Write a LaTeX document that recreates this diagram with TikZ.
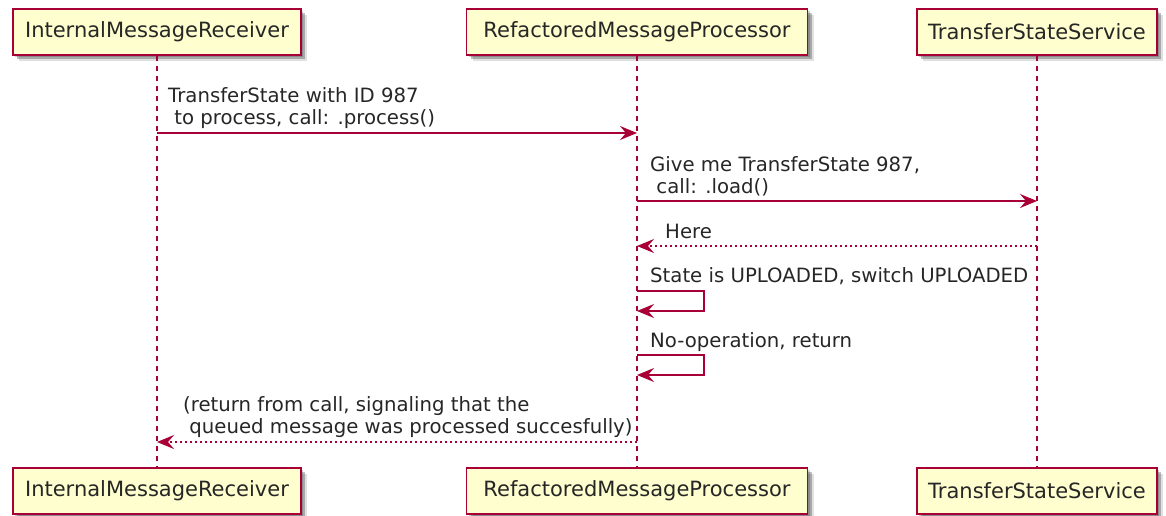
\documentclass[tikz,border=0pt]{standalone}
\usepackage{fontspec}
\setmainfont{DejaVu Sans}
\usetikzlibrary{arrows.meta,shadows}
\definecolor{umlred}{HTML}{A80036}
\definecolor{umlfill}{HTML}{FEFECE}
\tikzset{
  softshadow/.style={
    drop shadow={shadow xshift=2pt, shadow yshift=-2pt, fill=black, opacity=.18},
    drop shadow={shadow xshift=4pt, shadow yshift=-4pt, fill=black, opacity=.25},
    drop shadow={shadow xshift=6pt, shadow yshift=-6pt, fill=black, opacity=.12}},
  part/.style={draw=umlred, fill=umlfill, line width=1.5pt,
    minimum height=46pt, inner sep=0pt,
    font=\fontsize{21}{24}\selectfont, text=black!85, softshadow},
  life/.style={draw=umlred, line width=1.3pt, dash pattern=on 5pt off 5pt},
  call/.style={draw=umlred, line width=1.3pt,
    -{Stealth[length=17pt, width=14pt, inset=6pt]}},
  reply/.style={call, dash pattern=on 2.5pt off 2.5pt},
  msg/.style={anchor=base west, inner sep=0pt,
    font=\fontsize{19.7}{22}\selectfont, text=black!85}
}
\begin{document}
\begin{tikzpicture}[x=1pt, y=-1pt]
\useasboundingbox (0,0) rectangle (1166,515);

% participants, top and bottom
\node[part, minimum width=288pt] (irT) at (157,32) {InternalMessageReceiver};
\node[part, minimum width=341pt] (rpT) at (637,32) {RefactoredMessageProcessor};
\node[part, minimum width=240pt] (tsT) at (1037,32) {TransferStateService};
\node[part, minimum width=288pt] (irB) at (157,491) {InternalMessageReceiver};
\node[part, minimum width=341pt] (rpB) at (637,491) {RefactoredMessageProcessor};
\node[part, minimum width=240pt] (tsB) at (1037,491) {TransferStateService};

% lifelines
\draw[life] (irT.south) -- (irB.north);
\draw[life] (rpT.south) -- (rpB.north);
\draw[life] (tsT.south) -- (tsB.north);

% process call
\node[msg] (m1a) at (168,102) {TransferState with ID 987};
\node[msg] (m1b) at (168,124) {\ to process, call: .process()};
\draw[call] (irT.south |- 0,133) -- (rpT.south |- 0,133);

% load call and its reply
\node[msg] (m2a) at (650,171) {Give me TransferState 987,};
\node[msg] (m2b) at (650,193) {\ call: .load()};
\draw[call] (rpT.south |- 0,201) -- (tsT.south |- 0,201);
\node[msg] (m3) at (665,238) {Here};
\draw[reply] (tsT.south |- 0,246) -- (rpT.south |- 0,246);

% self messages
\node[msg] (m4) at (650,282) {State is UPLOADED, switch UPLOADED};
\draw[call] (rpT.south |- 0,291) -| (704,311) -- (rpT.south |- 0,311);
\node[msg] (m5) at (650,347) {No-operation, return};
\draw[call] (rpT.south |- 0,355) -| (704,375) -- (rpT.south |- 0,375);

% final reply
\node[msg] (m6a) at (183,411) {(return from call, signaling that the};
\node[msg] (m6b) at (183,433) {\ queued message was processed succesfully)};
\draw[reply] (rpT.south |- 0,442) -- (irT.south |- 0,442);
\end{tikzpicture}
\end{document}
